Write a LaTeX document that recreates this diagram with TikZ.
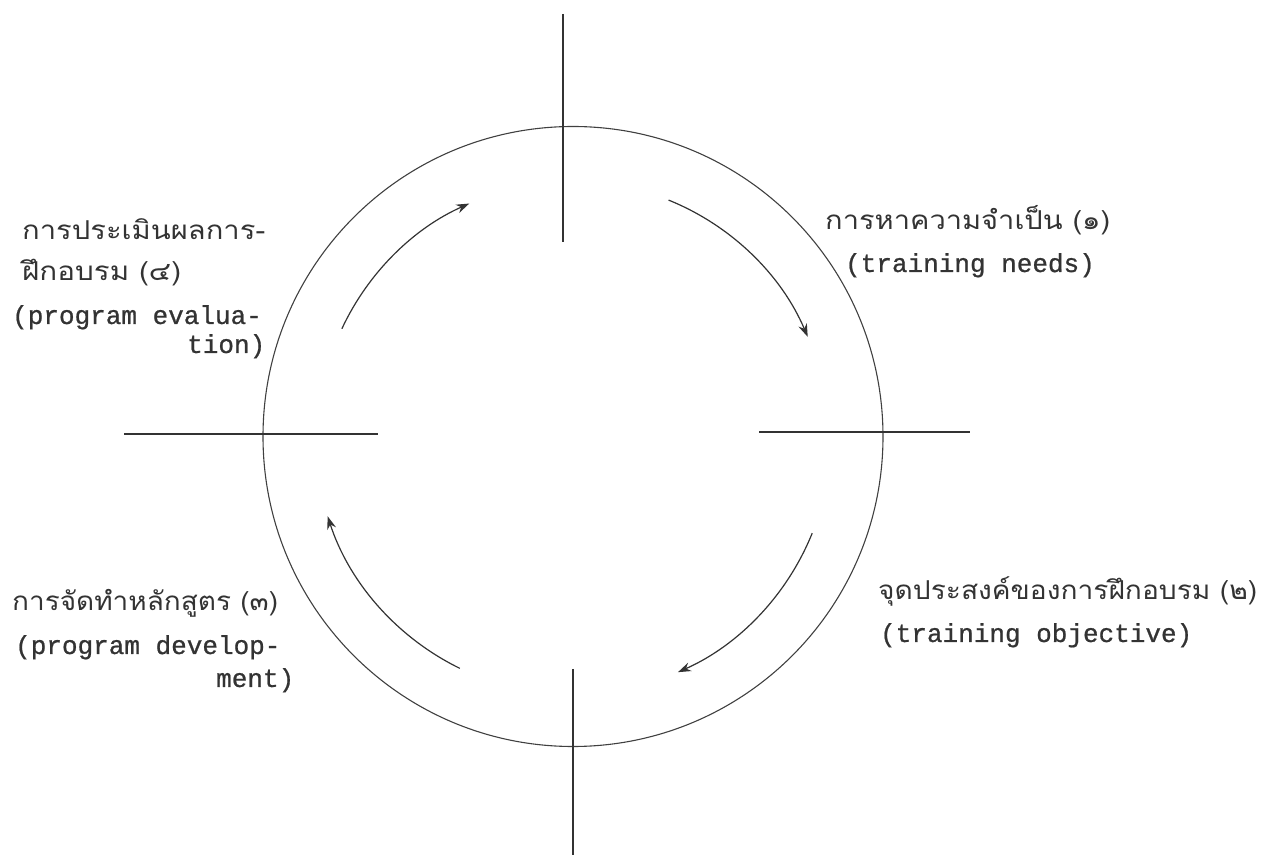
\documentclass[tikz,border=0pt]{standalone}
\usepackage{fontspec}
\usepackage{graphicx}
\setmonofont{Liberation Mono}[FakeBold=0.8]
\newfontfamily\thaifont[Script=Thai]{Loma}
\usetikzlibrary{arrows.meta}
\tikzset{
  ln/.style={draw=black!80, line width=1.5pt},
  ring/.style={circle, draw=black!75, line width=1.1pt, minimum size=620pt, inner sep=0pt},
  arr/.style={draw=black!80, line width=1.2pt, -{Stealth[length=13pt,width=9pt]}},
  en/.style={anchor=base west, inner sep=0pt, font=\ttfamily\fontsize{26}{30}\selectfont, text=black!80},
  th/.style={anchor=base west, inner sep=0pt, font=\thaifont\fontsize{26}{30}\selectfont, text=black!80},
}
\begin{document}
\begin{tikzpicture}[x=1pt,y=1pt]
\useasboundingbox (0,0) rectangle (1262,855);
\coordinate (C) at (573,418.5);
\node[ring] (circ) at (C) {};
% cross lines
\coordinate (vt1) at (563,841); \coordinate (vt2) at (563,613);
\coordinate (vb1) at (573,186); \coordinate (vb2) at (573,0);
\coordinate (hl1) at (124,421); \coordinate (hl2) at (378,421);
\coordinate (hr1) at (759,423); \coordinate (hr2) at (970,423);
\draw[ln] (vt1) -- (vt2);
\draw[ln] (vb1) -- (vb2);
\draw[ln] (hl1) -- (hl2);
\draw[ln] (hr1) -- (hr2);
% cycle arrows
\draw[arr] ([shift={(155:255)}]C) arc[start angle=155, end angle=114, radius=255];
\draw[arr] ([shift={(68:255)}]C) arc[start angle=68, end angle=23, radius=255];
\draw[arr] ([shift={(-22:258)}]C) arc[start angle=-22, end angle=-66, radius=258];
\draw[arr] ([shift={(-116:258)}]C) arc[start angle=-116, end angle=-162, radius=258];
% top right
\node[th] (tr1) at (825,625) {\resizebox{285pt}{\height}{การหาความจำเป็น (๑)}};
\node[en] (tr2) at (845,583) {(training needs)};
% bottom right
\node[th] (br1) at (878,255) {\resizebox{379pt}{\height}{จุดประสงค์ของการฝึกอบรม (๒)}};
\node[en] (br2) at (880,213) {(training objective)};
% bottom left
\node[th] (bl1) at (12,244) {\resizebox{266pt}{\height}{การจัดทำหลักสูตร (๓)}};
\node[en] (bl2) at (15,201) {(program develop-};
\node[en] (bl3) at (216,168) {ment)};
% top left
\node[th] (tl1) at (22,615) {\resizebox{243pt}{\height}{การประเมินผลการ-}};
\node[th] (tl2) at (22,574) {\resizebox{159pt}{\height}{ฝึกอบรม (๔)}};
\node[en] (tl3) at (12,531) {(program evalua-};
\node[en] (tl4) at (187,502) {tion)};
\end{tikzpicture}
\end{document}
